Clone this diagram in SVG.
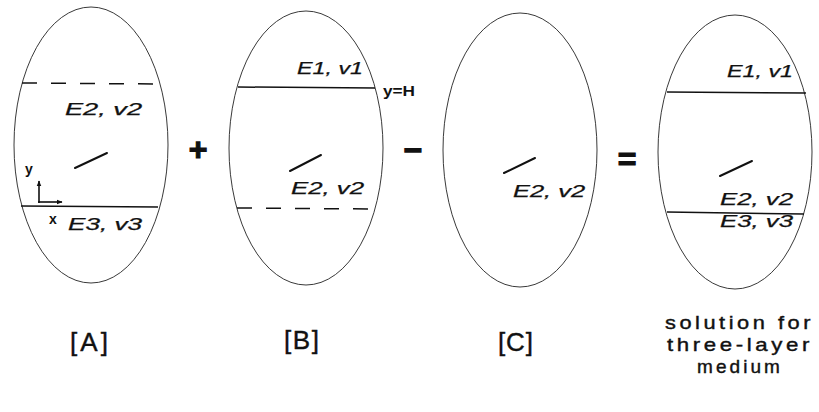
<svg xmlns="http://www.w3.org/2000/svg" width="819" height="412" viewBox="0 0 819 412">
<style>
.bg{fill:#fff}
.ell{fill:none;stroke:#222;stroke-width:0.9}
.lyr{stroke:#111;stroke-width:1.5;fill:none}
.dash{stroke:#111;stroke-width:1.5;fill:none;stroke-dasharray:15 14}
.crk{stroke:#111;stroke-width:2;fill:none;stroke-linecap:round}
.lab{font-family:"Liberation Sans",Arial,sans-serif;font-style:italic;font-size:16px;fill:#111;stroke:#111;stroke-width:0.25}
.ax{font-family:"Liberation Sans",Arial,sans-serif;font-weight:bold;font-size:14px;fill:#111}
.op{font-family:"Liberation Sans",Arial,sans-serif;font-weight:bold;font-size:32px;fill:#111;stroke:#111;stroke-width:1.2;text-anchor:middle}
.cap{font-family:"Liberation Sans",Arial,sans-serif;font-size:26px;fill:#111;stroke:#111;stroke-width:0.4}
.sol{font-family:"Liberation Sans",Arial,sans-serif;font-size:18.5px;letter-spacing:3px;fill:#111;stroke:#111;stroke-width:0.4}
</style>
<defs>
<marker id="ah" viewBox="0 0 10 10" refX="9" refY="5" markerWidth="6" markerHeight="6" orient="auto" markerUnits="userSpaceOnUse">
<path d="M0,1 L10,5 L0,9 z" fill="#111"/>
</marker>
</defs>
<rect class="bg" x="0" y="0" width="819" height="412"/>

<g id="panelA">
<ellipse class="ell" cx="91" cy="145" rx="77" ry="138"/>
<line class="dash" x1="22" y1="83" x2="161" y2="84"/>
<line class="lyr" x1="21" y1="206" x2="158" y2="207"/>
<line class="crk" x1="75" y1="168" x2="107" y2="153"/>
<text class="lab" x="65" y="115" textLength="77" lengthAdjust="spacingAndGlyphs">E2, v2</text>
<text class="lab" x="68" y="230" textLength="74" lengthAdjust="spacingAndGlyphs">E3, v3</text>
<line stroke="#111" stroke-width="1.6" x1="39" y1="203" x2="39" y2="181" marker-end="url(#ah)"/>
<line stroke="#111" stroke-width="1.6" x1="38" y1="202" x2="62" y2="202" marker-end="url(#ah)"/>
<text class="ax" x="25" y="174">y</text>
<text class="ax" x="49" y="224">x</text>
</g>

<g id="panelB">
<ellipse class="ell" cx="306" cy="148" rx="77" ry="137"/>
<line class="lyr" x1="238" y1="87" x2="375" y2="88"/>
<line class="dash" x1="237" y1="208" x2="374" y2="209"/>
<line class="crk" x1="290" y1="171" x2="321" y2="155"/>
<text class="lab" x="297" y="74" textLength="66" lengthAdjust="spacingAndGlyphs">E1, v1</text>
<text class="lab" x="291" y="194" textLength="73" lengthAdjust="spacingAndGlyphs">E2, v2</text>
<text class="ax" x="383" y="96" textLength="32" lengthAdjust="spacingAndGlyphs">y=H</text>
</g>

<g id="panelC">
<ellipse class="ell" cx="520" cy="150" rx="77" ry="137"/>
<line class="crk" x1="504" y1="173" x2="535" y2="158"/>
<text class="lab" x="513" y="197" textLength="72" lengthAdjust="spacingAndGlyphs">E2, v2</text>
</g>

<g id="panelD">
<ellipse class="ell" cx="735" cy="152" rx="77" ry="137"/>
<line class="lyr" x1="667" y1="92" x2="806" y2="93"/>
<line class="lyr" x1="667" y1="212" x2="804" y2="214"/>
<line class="crk" x1="720" y1="176" x2="752" y2="161"/>
<text class="lab" x="727" y="77" textLength="66" lengthAdjust="spacingAndGlyphs">E1, v1</text>
<text class="lab" x="720" y="205" textLength="73" lengthAdjust="spacingAndGlyphs">E2, v2</text>
<text class="lab" x="720" y="227" textLength="73" lengthAdjust="spacingAndGlyphs">E3, v3</text>
</g>

<g id="connectors">
<text class="op" x="198" y="160">+</text>
<text class="op" x="413" y="161">−</text>
<text class="op" x="627" y="170">=</text>
</g>

<g id="captions">
<text class="cap" x="70" y="351" textLength="38" lengthAdjust="spacing">[A]</text>
<text class="cap" x="284" y="349" textLength="35" lengthAdjust="spacing">[B]</text>
<text class="cap" x="498" y="351" textLength="35" lengthAdjust="spacing">[C]</text>
<text class="sol" x="665" y="329" textLength="149" lengthAdjust="spacingAndGlyphs">solution for</text>
<text class="sol" x="667" y="351" textLength="146" lengthAdjust="spacingAndGlyphs">three-layer</text>
<text class="sol" x="697" y="373" textLength="86" lengthAdjust="spacingAndGlyphs">medium</text>
</g>
</svg>
